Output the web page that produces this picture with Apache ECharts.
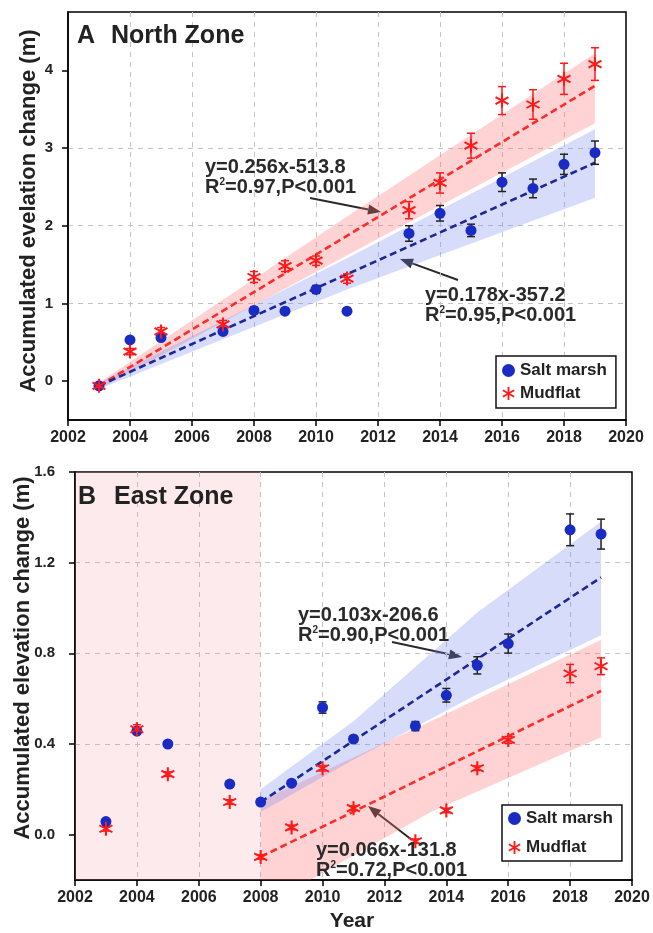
<!DOCTYPE html>
<html><head><meta charset="utf-8">
<script src="https://cdn.jsdelivr.net/npm/echarts@6/dist/echarts.min.js"></script>
<style>html,body{margin:0;padding:0;background:#fff}#c{width:653px;height:933px}</style>
</head><body><div id="c"></div>
<script>
// ---------- DATA ----------
const xTicks = [2002, 2020];
// Panel A (North Zone)
const yearsA = [2003,2004,2005,2007,2008,2009,2010,2011,2013,2014,2015,2016,2017,2018,2019];
const saltA = [-0.06,0.53,0.56,0.64,0.91,0.90,1.18,0.90,1.90,2.16,1.94,2.56,2.48,2.79,2.94];
const saltErrA = [0.02,0.03,0.03,0.03,0.04,0.04,0.05,0.03,0.10,0.10,0.08,0.12,0.12,0.13,0.15];
const mudA = [-0.06,0.38,0.64,0.73,1.34,1.48,1.55,1.32,2.20,2.55,3.03,3.61,3.56,3.89,4.08];
const mudErrA = [0.03,0.04,0.05,0.05,0.07,0.07,0.06,0.06,0.11,0.13,0.16,0.18,0.19,0.20,0.21];
const saltFitA = [[2003,-0.06],[2019,2.81]];
const mudFitA = [[2003,-0.06],[2019,3.80]];
const saltBandUpA = [[2003,-0.02],[2011,1.58],[2019,3.24]];
const saltBandLoA = [[2003,-0.10],[2011,1.18],[2019,2.36]];
const mudBandUpA = [[2003,-0.02],[2011,2.12],[2019,4.22]];
const mudBandLoA = [[2003,-0.10],[2011,1.62],[2019,3.32]];
const yTicksA = [0,1,2,3,4];
const yRangeA = [-0.5, 4.75];
// Panel B (East Zone)
const yearsB = [2003,2004,2005,2007,2008,2009,2010,2011,2013,2014,2015,2016,2018,2019];
const saltB = [0.058,0.457,0.40,0.223,0.144,0.227,0.561,0.422,0.479,0.615,0.747,0.843,1.345,1.326];
const saltErrB = [0.01,0.012,0.01,0.01,0.008,0.01,0.025,0.012,0.02,0.03,0.038,0.042,0.07,0.066];
const mudB = [0.026,0.465,0.267,0.144,-0.098,0.032,0.293,0.117,-0.029,0.107,0.293,0.418,0.711,0.743];
const mudErrB = [0.01,0.02,0.01,0.01,0.01,0.01,0.012,0.01,0.01,0.01,0.01,0.015,0.04,0.037];
const saltFitB = [[2008,0.144],[2019,1.135]];
const mudFitB = [[2008,-0.098],[2019,0.634]];
const saltBandUpB = [[2008,0.20],[2011,0.50],[2015,0.98],[2019,1.38]];
const saltBandLoB = [[2008,0.10],[2011,0.33],[2015,0.62],[2019,0.88]];
const mudBandUpB = [[2008,0.15],[2013.5,0.50],[2019,0.86]];
const mudBandLoB = [[2008,-0.2],[2009.6,-0.2],[2013.5,0.10],[2019,0.43]];
const shadedB = [2002, 2008];
const yTicksB = [0,0.4,0.8,1.2,1.6];
const yRangeB = [-0.2, 1.6];
const seriesNames = ['Salt marsh','Mudflat'];

// ---------- STYLE ----------
const BLUE = '#1a2bc4', RED = '#ff1a1a', NAVY = '#1c2896', LRED = '#ff2a2a';
const FONT = '"Liberation Sans", Arial, sans-serif';
function asteriskPath(){
  const L=10, w=1.4; let d='';
  [90,30,-30].forEach(a=>{
    const r=a*Math.PI/180, c=Math.cos(r), s=Math.sin(r);
    const ux=c, uy=s, nx=-s, ny=c;
    const p=[[L*ux+w*nx,L*uy+w*ny],[L*ux-w*nx,L*uy-w*ny],[-L*ux-w*nx,-L*uy-w*ny],[-L*ux+w*nx,-L*uy+w*ny]];
    d+='M'+p.map(q=>q[0].toFixed(2)+','+q[1].toFixed(2)).join('L')+'Z';
  });
  return 'path://'+d;
}
const STAR = asteriskPath();

function bandSeries(idx, up, lo, color){
  return {type:'custom', xAxisIndex:idx, yAxisIndex:idx, silent:true, z:1, clip:true,
    data:[up[0]],
    renderItem:(params, api)=>{
      if(params.dataIndex!==0) return;
      const pts = up.concat(lo.slice().reverse()).map(p=>api.coord(p));
      return {type:'polygon', shape:{points:pts}, style:{fill:color}};
    }};
}
function errSeries(idx, xs, ys, es, color){
  return {type:'custom', xAxisIndex:idx, yAxisIndex:idx, silent:true, z:3,
    data: xs.map((x,i)=>[x, ys[i], es[i]]),
    renderItem:(params, api)=>{
      const x=api.value(0), y=api.value(1), e=api.value(2);
      const t=api.coord([x,y+e]), b=api.coord([x,y-e]); const hw=4;
      const st={stroke:color, lineWidth:1.5};
      return {type:'group', children:[
        {type:'line', shape:{x1:t[0],y1:t[1],x2:b[0],y2:b[1]}, style:st},
        {type:'line', shape:{x1:t[0]-hw,y1:t[1],x2:t[0]+hw,y2:t[1]}, style:st},
        {type:'line', shape:{x1:b[0]-hw,y1:b[1],x2:b[0]+hw,y2:b[1]}, style:st}
      ]};
    }};
}
function fitSeries(idx, pts, color){
  return {type:'line', xAxisIndex:idx, yAxisIndex:idx, data:pts, symbol:'none', silent:true, z:2,
    lineStyle:{color, width:2.6, type:[7,4]}};
}
function scatterSeries(idx, name, xs, ys, sym, size, color){
  return {type:'scatter', name, xAxisIndex:idx, yAxisIndex:idx, data:xs.map((x,i)=>[x,ys[i]]),
    symbol:sym, symbolSize:size, itemStyle:{color, opacity:1}, z:4, silent:true};
}
function xAxisCfg(idx){
  return {type:'value', gridIndex:idx, min:xTicks[0], max:xTicks[1], interval:2,
    axisLine:{show:true, onZero:false, lineStyle:{color:'#000', width:1.5}},
    axisTick:{show:true, inside:false, length:6, lineStyle:{color:'#000', width:1.5}},
    axisLabel:{fontFamily:FONT, fontWeight:'bold', fontSize:16, color:'#222', margin:10, formatter:v=>String(v)},
    splitLine:{show:true, showMinLine:false, showMaxLine:false, lineStyle:{color:'#c4c4c4', width:1, type:[5,5]}}};
}
function yAxisCfg(idx, range, ticks, dec, margin){
  return {type:'value', gridIndex:idx, min:range[0], max:range[1],
    axisLine:{show:true, onZero:false, lineStyle:{color:'#000', width:1.5}},
    axisTick:{show:true, length:6, customValues:ticks, lineStyle:{color:'#000', width:1.5}},
    axisLabel:{customValues:ticks, fontFamily:FONT, fontWeight:'bold', fontSize:15, color:'#222', margin,
      formatter:v=>Number(v).toFixed(dec)},
    splitLine:{show:true, showMinLine:false, showMaxLine:false, lineStyle:{color:'#c4c4c4', width:1, type:[5,5]}}};
}
function arrow(x1,y1,x2,y2){
  const a=Math.atan2(y2-y1,x2-x1), L=13, W=5;
  const bx=x2-L*Math.cos(a), by=y2-L*Math.sin(a);
  const px=-Math.sin(a)*W, py=Math.cos(a)*W;
  return {type:'group', silent:true, children:[
    {type:'line', shape:{x1,y1,x2:bx,y2:by}, style:{stroke:'#2a2a2a', lineWidth:2}},
    {type:'polygon', shape:{points:[[x2,y2],[bx+px,by+py],[bx-px,by-py]]}, style:{fill:'#2a2a2a'}}
  ]};
}
function eqText(x, y, l1, r2rest){
  return {type:'text', x, y, silent:true, z:10, style:{
    text:'{a|'+l1+'}\n{a|R}{s|2}{a|'+r2rest+'}',
    rich:{a:{font:'bold 20px '+FONT, fill:'#2a2a2a', lineHeight:20}, s:{font:'bold 10px '+FONT, fill:'#2a2a2a', lineHeight:20, verticalAlign:'top', padding:[0,0,8,0]}},
    align:'left', verticalAlign:'top'}};
}
function plainText(x, y, t, size, rot, align){
  return {type:'text', x, y, rotation:rot||0, silent:true, z:10, style:{text:t, font:'bold '+size+'px '+FONT, fill:'#222', align:align||'left', verticalAlign:'middle'}};
}
function legendCfg(left, top, gap, pad){
  return {show:true, orient:'vertical', left, top, itemGap:gap, padding:pad, itemWidth:13, itemHeight:13,
    borderColor:'#111', borderWidth:1.5, backgroundColor:'#fff', itemTextGap:12, selectedMode:false,
    textStyle:{fontFamily:FONT, fontWeight:'bold', fontSize:17, color:'#222'},
    data:[{name:seriesNames[0], icon:'circle'},{name:seriesNames[1], icon:STAR}]};
}

const shadedSeries = {type:'line', xAxisIndex:1, yAxisIndex:1, data:[], silent:true, z:0,
  markArea:{silent:true, itemStyle:{color:'rgba(240,150,165,0.2)'}, data:[[{xAxis:shadedB[0]},{xAxis:shadedB[1]}]]}};

const option = {
  animation:false,
  backgroundColor:'#fff',
  grid:[
    {left:68, right:27, top:12, height:408, show:true, borderColor:'#000', borderWidth:1.5, containLabel:false},
    {left:75, right:21, top:472, height:408, show:true, borderColor:'#000', borderWidth:1.5, containLabel:false}
  ],
  xAxis:[xAxisCfg(0), xAxisCfg(1)],
  yAxis:[yAxisCfg(0, yRangeA, yTicksA, 0, 15), yAxisCfg(1, yRangeB, yTicksB, 1, 20)],
  legend:[legendCfg(496, 356, 6, [6,9,6,6]), legendCfg(502, 805, 12, [5,9,5,6])],
  series:[
    shadedSeries,
    bandSeries(0, mudBandUpA, mudBandLoA, 'rgba(255,110,110,0.30)'),
    bandSeries(0, saltBandUpA, saltBandLoA, 'rgba(110,130,240,0.28)'),
    fitSeries(0, mudFitA, LRED),
    fitSeries(0, saltFitA, NAVY),
    errSeries(0, yearsA, saltA, saltErrA, '#222'),
    errSeries(0, yearsA, mudA, mudErrA, RED),
    scatterSeries(0, seriesNames[0], yearsA, saltA, 'circle', 11, BLUE),
    scatterSeries(0, seriesNames[1], yearsA, mudA, STAR, 14, RED),
    bandSeries(1, mudBandUpB, mudBandLoB, 'rgba(255,110,110,0.30)'),
    bandSeries(1, saltBandUpB, saltBandLoB, 'rgba(110,130,240,0.28)'),
    fitSeries(1, mudFitB, LRED),
    fitSeries(1, saltFitB, NAVY),
    errSeries(1, yearsB, saltB, saltErrB, '#222'),
    errSeries(1, yearsB, mudB, mudErrB, RED),
    scatterSeries(1, seriesNames[0], yearsB, saltB, 'circle', 11, BLUE),
    scatterSeries(1, seriesNames[1], yearsB, mudB, STAR, 14, RED)
  ],
  graphic:[
    plainText(77, 36, 'A', 25), plainText(111, 36, 'North Zone', 25),
    plainText(78, 497, 'B', 25), plainText(114, 497, 'East Zone', 25),
    plainText(29, 211, 'Accumulated evelation change (m)', 22, Math.PI/2, 'center'),
    plainText(23, 658, 'Accumulated elevation change (m)', 22, Math.PI/2, 'center'),
    plainText(352, 921, 'Year', 21, 0, 'center'),
    eqText(205, 157, 'y=0.256x-513.8', '=0.97,P<0.001'),
    eqText(425, 285, 'y=0.178x-357.2', '=0.95,P<0.001'),
    eqText(298, 605, 'y=0.103x-206.6', '=0.90,P<0.001'),
    eqText(316, 840, 'y=0.066x-131.8', '=0.72,P<0.001'),
    arrow(310,198,381,212),
    arrow(458,280,400,259),
    arrow(392,642,462,657),
    arrow(412,840,368,806)
  ]
};
const chart = echarts.init(document.getElementById('c'), null, {renderer:'canvas'});
chart.setOption(option);
</script></body></html>
